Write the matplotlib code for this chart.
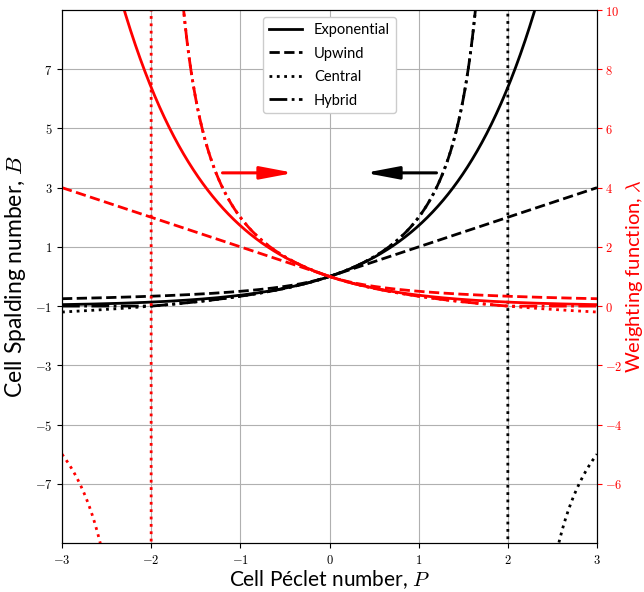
import numpy as np
import matplotlib
matplotlib.use("Agg")
import matplotlib.pyplot as plt
from matplotlib.ticker import FuncFormatter

plt.rcParams['mathtext.fontset'] = 'cm'
plt.rcParams['font.family'] = ['Lato', 'DejaVu Sans']

# Cell Peclet number grid
P = np.linspace(-3, 3, 1000)

# Spalding number B(P) for the four schemes: B = a_W/a_E - 1
B_exp = np.exp(P) - 1
B_up = np.where(P > 0, P, P / (1 - P))
B_cen = 2 * P / (2 - P)
B_hyb = np.where(P <= -2, -1.0, np.where(P < 2, B_cen, np.nan))

# Weighting function lambda(P) = a_E/a_W
L_exp = np.exp(-P)
L_up = np.where(P < 0, 1 - P, 1 / (1 + P))
L_cen = (2 - P) / (2 + P)
L_hyb = np.where(P >= 2, 0.0, np.where(P > -2, L_cen, np.nan))

labels = ["Exponential", "Upwind", "Central", "Hybrid"]
styles = ["-", "--", ":", "-."]

x_ticks = [-3, -2, -1, 0, 1, 2, 3]
B_ticks = [-7, -5, -3, -1, 1, 3, 5, 7]
L_ticks = [-6, -4, -2, 0, 2, 4, 6, 8, 10]

# arrows (P start, P end) at B level
arrow_B = 3.5
red_arrow = (-1.2, -0.4)
black_arrow = (1.2, 0.4)

fig = plt.figure(figsize=(6.44, 5.92), dpi=100)
ax = fig.add_axes([62/644, 1-543/592, (597-62)/644, (543-10)/592])
ax2 = ax.twinx()

lw = 2
for y, ls, lab in zip([B_exp, B_up, B_cen, B_hyb], styles, labels):
    ax.plot(P, y, color='black', ls=ls, lw=lw, label=lab)
for y, ls in zip([L_exp, L_up, L_cen, L_hyb], styles):
    ax2.plot(P, y, color='red', ls=ls, lw=lw)

ax.set_xlim(-3, 3)
ax.set_ylim(-9, 9)
ax2.set_ylim(-8, 10)
ax.set_xticks(x_ticks)
ax.set_yticks(B_ticks)
ax2.set_yticks(L_ticks)
fmt = FuncFormatter(lambda v, pos: r"$%d$" % int(round(v)))
ax.xaxis.set_major_formatter(fmt)
ax.yaxis.set_major_formatter(fmt)
ax2.yaxis.set_major_formatter(fmt)
ax.tick_params(labelsize=9)
ax2.tick_params(labelsize=9, colors='red', pad=2.5)
ax.grid(True, color='#b0b0b0', lw=0.8)

astyle = '-|>,head_length=1.0,head_width=0.19'
ax.annotate("", xy=(red_arrow[1], arrow_B), xytext=(red_arrow[0], arrow_B),
            arrowprops=dict(arrowstyle=astyle, color='red', lw=2.2,
                            mutation_scale=20, shrinkA=0, shrinkB=0))
ax.annotate("", xy=(black_arrow[1], arrow_B), xytext=(black_arrow[0], arrow_B),
            arrowprops=dict(arrowstyle=astyle, color='black', lw=2.2,
                            mutation_scale=20, shrinkA=0, shrinkB=0))

ax.set_xlabel(r"Cell Péclet number, $P$", fontsize=15, labelpad=2)
ax.set_ylabel(r"Cell Spalding number, $B$", fontsize=16.5, labelpad=5)
ax2.set_ylabel(r"Weighting function, $\lambda$", fontsize=14.5, color='red', labelpad=1)

ax.legend(loc='upper center', fontsize=10.5, handlelength=2.3,
          labelspacing=0.65, framealpha=1)

fig.savefig("out.png", dpi=100)
